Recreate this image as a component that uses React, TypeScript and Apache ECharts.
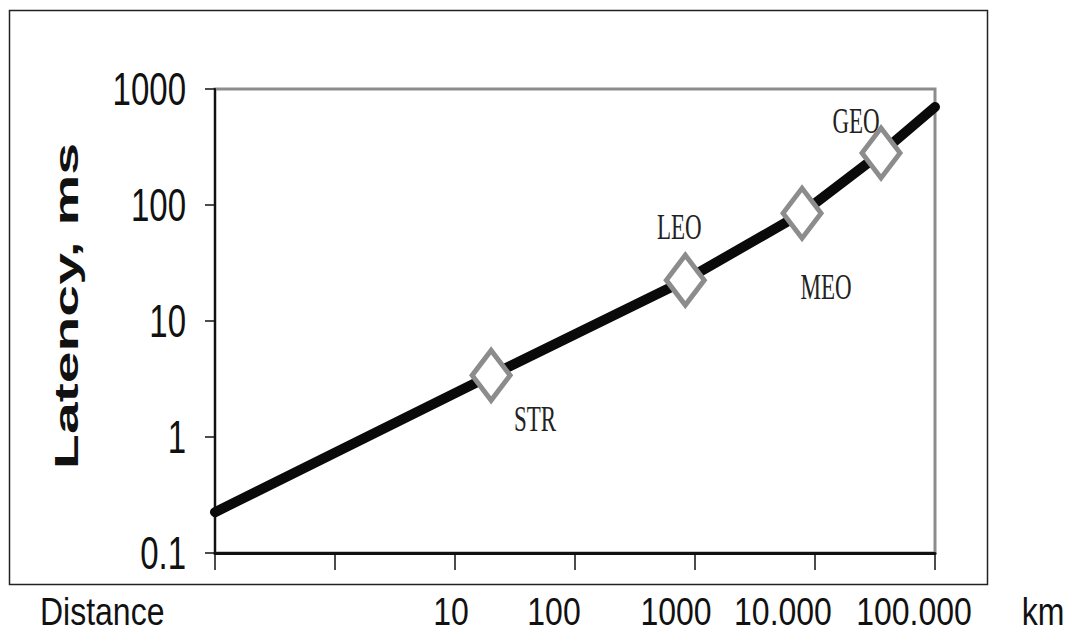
import React, { useEffect, useRef } from "react";
import * as echarts from "echarts";

// ---- data ----
const curveDistances = [0.1, 20, 830, 7800, 35500, 100000];
const curveLatencies = [0.225, 3.4, 22.5, 85, 281, 700];
const orbitNames = ["STR", "LEO", "MEO", "GEO"];
const orbitDistances = [20, 830, 7800, 35500];
const orbitLatencies = [3.4, 22.5, 85, 281];
const yTickValues = [0.1, 1, 10, 100, 1000];
const yTickLabels = ["0.1", "1", "10", "100", "1000"];
const xTickValues = [10, 100, 1000, 10000, 100000];
const xTickLabels = ["10", "100", "1000", "10.000", "100.000"];
const xTitle = "Distance";
const xUnit = "km";
const yTitle = "Latency, ms";

// ---- layout (text placement only) ----
const xLabelOffsets = [-4, -21, -19, -32, -21];
const orbitLabelOffsets = [
  [44, 43],
  [-6, -54],
  [24, 73],
  [-25, -32],
];

const SANS = "Liberation Sans, Arial, sans-serif";
const SERIF = "Liberation Serif, Times New Roman, serif";

export default function App() {
  const ref = useRef<HTMLDivElement>(null);
  useEffect(() => {
    const chart = echarts.init(ref.current as HTMLDivElement, null, { renderer: "svg" });
    chart.setOption({
      animation: false,
      backgroundColor: "#ffffff",
      grid: {
        left: 215,
        top: 89,
        width: 720,
        height: 464,
        show: true,
        borderColor: "#8c8c8c",
        borderWidth: 3,
        backgroundColor: "transparent",
      },
      xAxis: {
        type: "log",
        logBase: 10,
        min: 0.1,
        max: 100000,
        splitNumber: 6,
        axisLine: { show: true, lineStyle: { color: "#111", width: 3 } },
        axisTick: { show: true, length: 17, lineStyle: { color: "#111", width: 1.5 } },
        axisLabel: { show: false },
        splitLine: { show: false },
      },
      yAxis: {
        type: "log",
        logBase: 10,
        min: 0.1,
        max: 1000,
        splitNumber: 4,
        axisLine: { show: true, lineStyle: { color: "#111", width: 2 } },
        axisTick: { show: true, length: 10, lineStyle: { color: "#111", width: 1.5 } },
        axisLabel: { show: false },
        splitLine: { show: false },
      },
      series: [
        {
          type: "line",
          data: curveDistances.map((d, i) => [d, curveLatencies[i]]),
          symbol: "none",
          showSymbol: false,
          lineStyle: { color: "#0a0a0a", width: 10, cap: "round" },
          z: 2,
        },
        {
          type: "scatter",
          data: orbitDistances.map((d, i) => ({ name: orbitNames[i], value: [d, orbitLatencies[i]] })),
          symbol: "diamond",
          symbolSize: [38, 50],
          itemStyle: { color: "#ffffff", borderColor: "#8c8c8c", borderWidth: 5, opacity: 1 },
          z: 3,
        },
      ],
    });

    const g: any[] = [];
    g.push({
      type: "rect",
      shape: { x: 9.5, y: 10.5, width: 978, height: 574 },
      style: { fill: "none", stroke: "#222", lineWidth: 1.5 },
      z: 0,
      silent: true,
    });
    // y tick labels
    yTickValues.forEach((v, i) => {
      const py = chart.convertToPixel({ yAxisIndex: 0 }, v) as number;
      g.push({
        type: "text",
        x: 186,
        y: py,
        scaleY: 1.4,
        style: {
          text: yTickLabels[i],
          x: 0,
          y: 0,
          align: "right",
          verticalAlign: "middle",
          font: `33px ${SANS}`,
          fill: "#111",
        },
      });
    });
    // x row labels
    g.push({
      type: "text",
      x: 40,
      y: 611,
      scaleY: 1.2,
      style: { text: xTitle, x: 0, y: 0, align: "left", verticalAlign: "middle", font: `32px ${SANS}`, fill: "#111" },
    });
    xTickValues.forEach((v, i) => {
      const px = chart.convertToPixel({ xAxisIndex: 0 }, v) as number;
      g.push({
        type: "text",
        x: px + xLabelOffsets[i],
        y: 611,
        scaleY: 1.2,
        style: {
          text: xTickLabels[i],
          x: 0,
          y: 0,
          align: "center",
          verticalAlign: "middle",
          font: `32px ${SANS}`,
          fill: "#111",
        },
      });
    });
    g.push({
      type: "text",
      x: 1043,
      y: 611,
      scaleY: 1.2,
      style: { text: xUnit, x: 0, y: 0, align: "center", verticalAlign: "middle", font: `32px ${SANS}`, fill: "#111" },
    });
    // y title
    g.push({
      type: "text",
      x: 66,
      y: 306,
      rotation: Math.PI / 2,
      scaleX: 1.68,
      style: {
        text: yTitle,
        x: 0,
        y: 0,
        align: "center",
        verticalAlign: "middle",
        font: `bold 34px ${SANS}`,
        fill: "#111",
      },
    });
    // orbit labels
    orbitNames.forEach((n, i) => {
      const p = chart.convertToPixel({ gridIndex: 0 }, [orbitDistances[i], orbitLatencies[i]]) as number[];
      g.push({
        type: "text",
        x: p[0] + orbitLabelOffsets[i][0],
        y: p[1] + orbitLabelOffsets[i][1],
        scaleY: 1.55,
        style: {
          text: n,
          x: 0,
          y: 0,
          align: "center",
          verticalAlign: "middle",
          font: `23px ${SERIF}`,
          fill: "#222",
        },
      });
    });
    chart.setOption({ graphic: g });
    return () => chart.dispose();
  }, []);
  return (
    <div
      ref={ref}
      style={{ position: "fixed", left: 0, top: 0, width: 1076, height: 633 }}
    />
  );
}
